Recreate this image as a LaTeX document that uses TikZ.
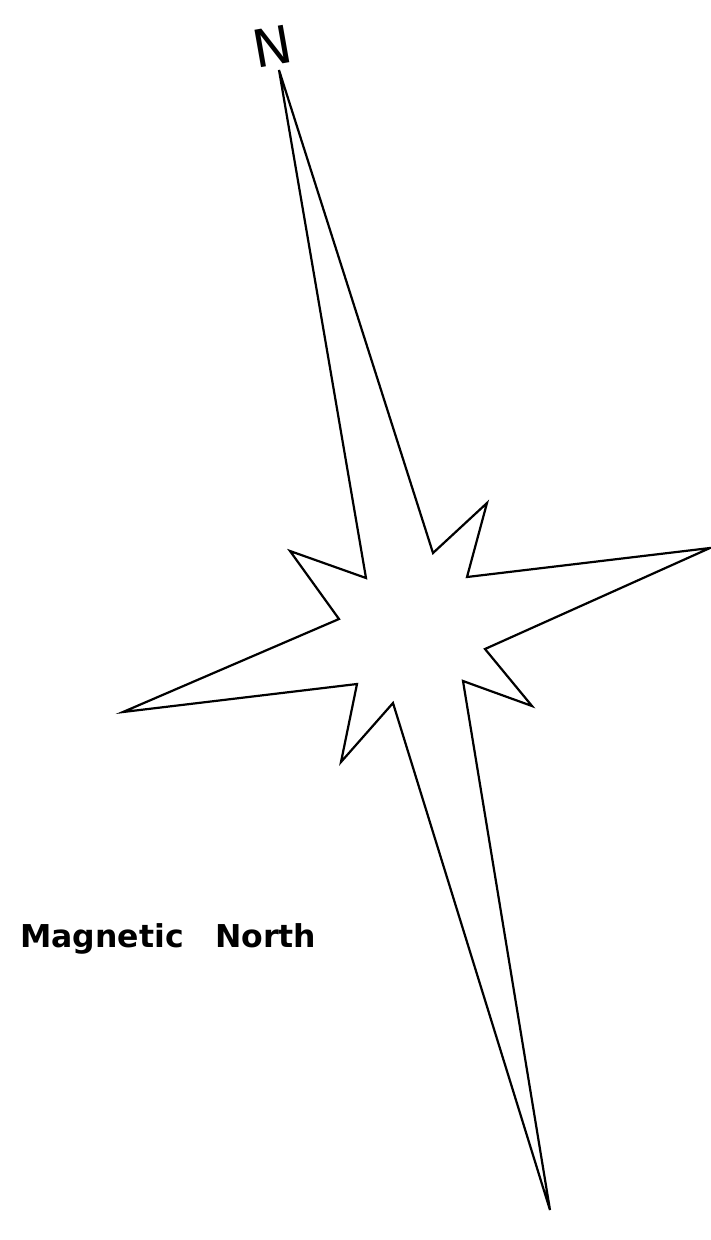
\documentclass[tikz,border=0pt]{standalone}
\usepackage{fontspec}
\setmainfont{DejaVu Sans}
\usetikzlibrary{positioning}
\usetikzlibrary{calc}

\begin{document}
\begin{tikzpicture}[x=1pt, y=-1pt, line join=miter, every node/.style={inner sep=0pt}]
        \useasboundingbox (0, 0) rectangle (711, 1240);

        % tips of the long spikes
        \coordinate (ntip) at (279, 70);
        \coordinate (etip) at (710, 548);
        \coordinate (stip) at (550, 1210);
        \coordinate (wtip) at (123, 712);

        % tips of the short spikes
        \coordinate (netip) at (487, 503);
        \coordinate (setip) at (532, 706);
        \coordinate (swtip) at (341, 762);
        \coordinate (nwtip) at (290, 551);

        % inner corners
        \coordinate (i1) at (433, 553);
        \coordinate (i2) at (467, 577);
        \coordinate (i3) at (485, 649);
        \coordinate (i4) at (463, 681);
        \coordinate (i5) at (393, 703);
        \coordinate (i6) at (357, 684);
        \coordinate (i7) at (339, 619);
        \coordinate (i8) at (366, 578);

        \draw[line width=2.2pt] (ntip) -- (i1) -- (netip) -- (i2) -- (etip) -- (i3) -- (setip) -- (i4)
          -- (stip) -- (i5) -- (swtip) -- (i6) -- (wtip) -- (i7) -- (nwtip) -- (i8) -- cycle;

        \node[rotate=10, font=\fontsize{52}{52}\selectfont] (nlabel) at (272, 46) {N};

        \node[anchor=base west, font=\fontsize{31.5}{31.5}\selectfont\bfseries] (maglabel) at (20, 947) {Magnetic\hspace{1em}North};
      \end{tikzpicture}
\end{document}
